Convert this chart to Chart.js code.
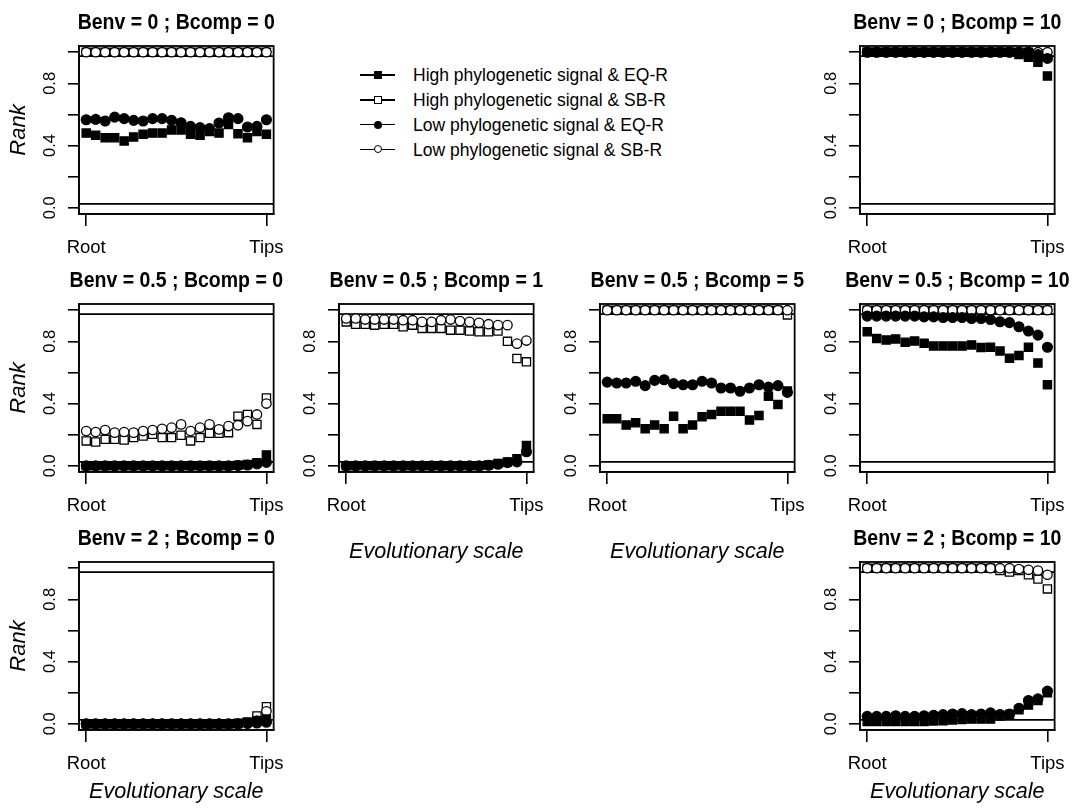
<!DOCTYPE html>
<html>
<head>
<meta charset="utf-8">
<script src="https://cdn.jsdelivr.net/npm/chart.js@4.4.0/dist/chart.umd.min.js"></script>
<style>
html, body { margin: 0; padding: 0; background: #fff; overflow: hidden; }
body { width: 1086px; height: 812px; position: relative; font-family: "Liberation Sans", Arial, sans-serif; color: #000; }
canvas.panel { position: absolute; }
.lrow { position: absolute; left: 360px; height: 12px; width: 360px; }
.lline { position: absolute; left: 0; top: 5.4px; width: 35px; height: 1.4px; background: #000; }
.lmark { position: absolute; left: 14px; top: 2px; width: 8px; height: 8px; box-sizing: border-box; }
.sq-f { background: #000; }
.sq-o { background: #fff; border: 1.4px solid #000; }
.ci-f { background: #000; border-radius: 50%; }
.ci-o { background: #fff; border: 1.4px solid #000; border-radius: 50%; }
.ltext { position: absolute; left: 53px; top: -2.7px; font-size: 17.5px; line-height: 18px; white-space: nowrap; }
</style>
</head>
<body>
<div id="legend"></div>
<script>
// x positions along the tree, root to tips
const positions = [1,2,3,4,5,6,7,8,9,10,11,12,13,14,15,16,17,18,19,20]
const xTickValues = [1, 20]
const xTickLabels = ["Root", "Tips"]
const yTickValues = [0, 0.2, 0.4, 0.6, 0.8, 1.0]
const yTickLabels = ["0.0", "", "0.4", "", "0.8", ""]
const refLines = [0.025, 0.975]

const seriesNames = [
    "High phylogenetic signal & EQ-R",
    "High phylogenetic signal & SB-R",
    "Low phylogenetic signal & EQ-R",
    "Low phylogenetic signal & SB-R"
]

// Benv = 0 ; Bcomp = 0
const b0c0_highEQ = [0.48,0.466,0.45,0.45,0.43,0.455,0.472,0.48,0.48,0.50,0.50,0.472,0.466,0.49,0.48,0.536,0.476,0.45,0.49,0.472]
const b0c0_highSB = [1,1,1,1,1,1,1,1,1,1,1,1,1,1,1,1,1,1,1,1]
const b0c0_lowEQ  = [0.566,0.568,0.558,0.583,0.573,0.562,0.558,0.573,0.573,0.562,0.547,0.523,0.515,0.509,0.545,0.579,0.573,0.519,0.523,0.566]
const b0c0_lowSB  = [1,1,1,1,1,1,1,1,1,1,1,1,1,1,1,1,1,1,1,1]

// Benv = 0 ; Bcomp = 10
const b0c10_highEQ = [1,1,1,1,1,1,1,1,1,1,1,1,1,1,1,1,0.985,0.968,0.936,0.847]
const b0c10_highSB = [1,1,1,1,1,1,1,1,1,1,1,1,1,1,1,1,1,1,0.99,0.97]
const b0c10_lowEQ  = [1,1,1,1,1,1,1,1,1,1,1,1,1,1,1,1,1,1,0.985,0.96]
const b0c10_lowSB  = [1,1,1,1,1,1,1,1,1,1,1,1,1,1,1,1,1,1,1,1]

// Benv = 0.5 ; Bcomp = 0
const b05c0_highEQ = [0,0,0,0,0,0,0,0,0,0,0,0,0,0,0,0,0.003,0.008,0.02,0.07]
const b05c0_highSB = [0.16,0.153,0.17,0.17,0.166,0.181,0.191,0.202,0.181,0.181,0.196,0.16,0.181,0.209,0.209,0.213,0.319,0.33,0.266,0.436]
const b05c0_lowEQ  = [0,0,0,0,0,0,0,0,0,0,0,0,0,0,0,0,0.002,0.005,0.012,0.022]
const b05c0_lowSB  = [0.223,0.217,0.23,0.213,0.217,0.213,0.223,0.23,0.238,0.245,0.266,0.223,0.245,0.266,0.234,0.255,0.26,0.287,0.33,0.40]

// Benv = 0.5 ; Bcomp = 1
const b05c1_highEQ = [0,0,0,0,0,0,0,0,0,0,0,0,0,0,0,0.005,0.015,0.025,0.045,0.13]
const b05c1_highSB = [0.925,0.91,0.91,0.904,0.91,0.91,0.894,0.904,0.883,0.883,0.883,0.872,0.872,0.866,0.862,0.862,0.866,0.80,0.69,0.668]
const b05c1_lowEQ  = [0,0,0,0,0,0,0,0,0,0,0,0,0,0,0,0.003,0.01,0.02,0.025,0.09]
const b05c1_lowSB  = [0.947,0.947,0.94,0.94,0.94,0.94,0.936,0.936,0.925,0.925,0.936,0.94,0.93,0.925,0.919,0.91,0.904,0.904,0.785,0.805]

// Benv = 0.5 ; Bcomp = 5
const b05c5_highEQ = [0.302,0.302,0.262,0.277,0.238,0.262,0.238,0.319,0.238,0.262,0.315,0.33,0.351,0.351,0.351,0.294,0.323,0.447,0.394,0.48]
const b05c5_highSB = [1,1,1,1,1,1,1,1,1,1,1,1,1,1,1,1,1,1,1,0.97]
const b05c5_lowEQ  = [0.538,0.532,0.532,0.543,0.515,0.549,0.553,0.528,0.521,0.521,0.543,0.532,0.50,0.50,0.479,0.50,0.521,0.506,0.515,0.472]
const b05c5_lowSB  = [1,1,1,1,1,1,1,1,1,1,1,1,1,1,1,1,1,1,1,1]

// Benv = 0.5 ; Bcomp = 10
const b05c10_highEQ = [0.862,0.819,0.809,0.815,0.794,0.802,0.787,0.77,0.77,0.77,0.77,0.777,0.76,0.762,0.738,0.691,0.709,0.762,0.66,0.521]
const b05c10_highSB = [1,1,1,1,1,1,1,1,1,1,1,1,1,1,1,1,1,1,1,1]
const b05c10_lowEQ  = [0.962,0.962,0.962,0.962,0.962,0.962,0.957,0.957,0.953,0.953,0.953,0.947,0.947,0.94,0.926,0.92,0.894,0.866,0.84,0.762]
const b05c10_lowSB  = [1,1,1,1,1,1,1,1,1,1,1,1,1,1,1,1,1,1,1,1]

// Benv = 2 ; Bcomp = 0
const b2c0_highEQ = [0,0,0,0,0,0,0,0,0,0,0,0,0,0,0,0,0.003,0.01,0.02,0.03]
const b2c0_highSB = [0,0,0,0,0,0,0,0,0,0,0,0,0,0,0,0,0,0.01,0.05,0.11]
const b2c0_lowEQ  = [0,0,0,0,0,0,0,0,0,0,0,0,0,0,0,0,0,0.002,0.005,0.01]
const b2c0_lowSB  = [0,0,0,0,0,0,0,0,0,0,0,0,0,0,0,0,0,0.005,0.02,0.08]

// Benv = 2 ; Bcomp = 10
const b2c10_highEQ = [0.015,0.015,0.015,0.015,0.015,0.015,0.015,0.018,0.02,0.025,0.028,0.03,0.03,0.03,0.05,0.06,0.09,0.12,0.15,0.2]
const b2c10_highSB = [1,1,1,1,1,1,1,1,1,1,1,1,1,1,0.985,0.975,0.985,0.958,0.93,0.867]
const b2c10_lowEQ  = [0.048,0.048,0.048,0.052,0.048,0.048,0.052,0.055,0.059,0.063,0.065,0.059,0.063,0.07,0.06,0.063,0.10,0.15,0.16,0.21]
const b2c10_lowSB  = [1,1,1,1,1,1,1,1,1,1,1,1,1,1,1,1,0.995,0.99,0.985,0.958]

const panels = [
    {title: "Benv = 0 ; Bcomp = 0", row: 0, col: 0, rank: true, xTitle: false, data: [b0c0_highEQ, b0c0_highSB, b0c0_lowEQ, b0c0_lowSB]},
    {title: "Benv = 0 ; Bcomp = 10", row: 0, col: 3, rank: false, xTitle: false, data: [b0c10_highEQ, b0c10_highSB, b0c10_lowEQ, b0c10_lowSB]},
    {title: "Benv = 0.5 ; Bcomp = 0", row: 1, col: 0, rank: true, xTitle: false, data: [b05c0_highEQ, b05c0_highSB, b05c0_lowEQ, b05c0_lowSB]},
    {title: "Benv = 0.5 ; Bcomp = 1", row: 1, col: 1, rank: false, xTitle: true, data: [b05c1_highEQ, b05c1_highSB, b05c1_lowEQ, b05c1_lowSB]},
    {title: "Benv = 0.5 ; Bcomp = 5", row: 1, col: 2, rank: false, xTitle: true, data: [b05c5_highEQ, b05c5_highSB, b05c5_lowEQ, b05c5_lowSB]},
    {title: "Benv = 0.5 ; Bcomp = 10", row: 1, col: 3, rank: false, xTitle: false, data: [b05c10_highEQ, b05c10_highSB, b05c10_lowEQ, b05c10_lowSB]},
    {title: "Benv = 2 ; Bcomp = 0", row: 2, col: 0, rank: true, xTitle: true, data: [b2c0_highEQ, b2c0_highSB, b2c0_lowEQ, b2c0_lowSB]},
    {title: "Benv = 2 ; Bcomp = 10", row: 2, col: 3, rank: false, xTitle: true, data: [b2c10_highEQ, b2c10_highSB, b2c10_lowEQ, b2c10_lowSB]}
]

// filled symbols end up on top, open ones below
const markers = [
    {style: "rect", radius: 5.8, fill: "#000", order: 2, cls: "sq-f"},
    {style: "rect", radius: 5.8, fill: "#fff", order: 4, cls: "sq-o"},
    {style: "circle", radius: 4.9, fill: "#000", order: 1, cls: "ci-f"},
    {style: "circle", radius: 4.7, fill: "#fff", order: 3, cls: "ci-o"}
]

const colLeft = [79, 339, 600, 860]
const rowTop = [46, 304, 562]
const canvasH = [300, 310, 292]
const boxW = 204
const boxH = 168
const padL = 80
const padT = 46
const padR = 12
const FONT = '"Liberation Sans", Arial, sans-serif'

Chart.defaults.font.family = FONT
Chart.defaults.color = "#000"

const rPlot = {
    id: "rPlot",
    beforeDatasetsDraw(chart){
        const ctx = chart.ctx
        const a = chart.chartArea
        const y = chart.scales.y
        ctx.save()
        ctx.strokeStyle = "#000"
        ctx.lineWidth = 1.6
        refLines.forEach(v => {
            let py = y.getPixelForValue(v)
            ctx.beginPath()
            ctx.moveTo(a.left, py)
            ctx.lineTo(a.right, py)
            ctx.stroke()
        })
        ctx.restore()
    },
    afterDraw(chart, args, opts){
        const ctx = chart.ctx
        const a = chart.chartArea
        ctx.save()
        ctx.strokeStyle = "#000"
        ctx.lineWidth = 1.8
        ctx.strokeRect(a.left, a.top, a.right - a.left, a.bottom - a.top)
        // R titles look a little taller than wide in the source image
        ctx.fillStyle = "#000"
        ctx.font = "bold 19.5px " + FONT
        ctx.textAlign = "center"
        ctx.textBaseline = "middle"
        ctx.translate((a.left + a.right) / 2, a.top - 23)
        ctx.scale(1, 1.1)
        ctx.fillText(opts.title, 0, 0)
        ctx.restore()
    }
}

function makePanel(p){
    let h = canvasH[p.row]
    let w = padL + boxW + padR
    let canvas = document.createElement("canvas")
    canvas.className = "panel"
    canvas.width = w
    canvas.height = h
    canvas.style.left = (colLeft[p.col] - padL) + "px"
    canvas.style.top = (rowTop[p.row] - padT) + "px"
    canvas.style.width = w + "px"
    canvas.style.height = h + "px"
    document.body.appendChild(canvas)

    let datasets = p.data.map((vals, i) => ({
        label: seriesNames[i],
        data: positions.map((x, j) => ({x: x, y: vals[j]})),
        pointStyle: markers[i].style,
        pointRadius: markers[i].radius,
        pointBackgroundColor: markers[i].fill,
        pointBorderColor: "#000",
        pointBorderWidth: 1.3,
        showLine: false,
        order: markers[i].order,
        clip: false
    }))

    new Chart(canvas, {
        type: "scatter",
        data: {datasets: datasets},
        plugins: [rPlot],
        options: {
            responsive: false,
            animation: false,
            events: [],
            layout: {padding: {top: padT, right: padR, left: 0, bottom: 0}},
            plugins: {
                legend: {display: false},
                tooltip: {enabled: false},
                rPlot: {title: p.title}
            },
            scales: {
                x: {
                    type: "linear",
                    min: 0.24,
                    max: 20.76,
                    bounds: "data",
                    afterBuildTicks: s => { s.ticks = xTickValues.map(v => ({value: v})) },
                    afterFit: s => { s.height = h - padT - boxH },
                    grid: {drawOnChartArea: false, drawTicks: true, tickLength: 12, color: "#000", lineWidth: 1.6},
                    border: {display: true, color: "#000", width: 1.6},
                    ticks: {
                        autoSkip: false,
                        maxRotation: 0,
                        padding: 11,
                        color: "#000",
                        font: {size: 18.5},
                        callback: v => xTickLabels[xTickValues.indexOf(v)]
                    },
                    title: {
                        display: p.xTitle,
                        text: "Evolutionary scale",
                        color: "#000",
                        font: {size: 21.5, style: "italic"},
                        padding: {top: 0, bottom: 3}
                    }
                },
                y: {
                    type: "linear",
                    min: -0.04,
                    max: 1.04,
                    bounds: "data",
                    afterBuildTicks: s => { s.ticks = yTickValues.map(v => ({value: v})) },
                    afterFit: s => { s.width = padL },
                    grid: {drawOnChartArea: false, drawTicks: true, tickLength: 11, color: "#000", lineWidth: 1.6},
                    border: {display: true, color: "#000", width: 1.6},
                    ticks: {
                        autoSkip: false,
                        minRotation: 90,
                        maxRotation: 90,
                        crossAlign: "center",
                        padding: 6,
                        color: "#000",
                        font: {size: 16.5},
                        callback: v => yTickLabels[yTickValues.indexOf(v)]
                    },
                    title: {
                        display: p.rank,
                        text: "Rank",
                        color: "#000",
                        font: {size: 22, style: "italic"},
                        padding: {top: 7, bottom: 0}
                    }
                }
            }
        }
    })
}

panels.forEach(makePanel)

// legend in the empty top-middle space
const legendTop = 69
const legendGap = 24.8
let legend = document.getElementById("legend")
seriesNames.forEach((name, i) => {
    let row = document.createElement("div")
    row.className = "lrow"
    row.style.top = (legendTop + i * legendGap) + "px"
    row.innerHTML = '<span class="lline"></span><span class="lmark ' + markers[i].cls + '"></span><span class="ltext">' + name + '</span>'
    legend.appendChild(row)
})
</script>
</body>
</html>
